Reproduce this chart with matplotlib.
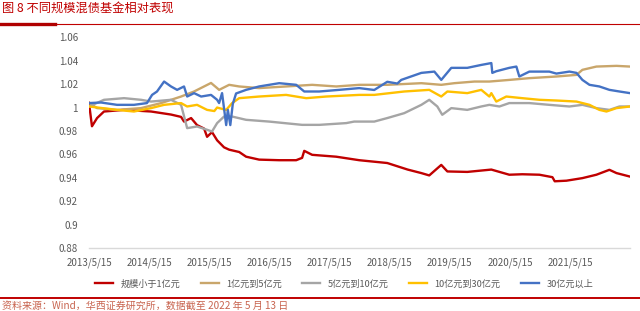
import matplotlib
matplotlib.use("Agg")
import matplotlib.pyplot as plt
from matplotlib.lines import Line2D
import pandas as pd

plt.rcParams["font.family"] = ["Noto Sans CJK SC", "DejaVu Sans"]

# 规模小于1亿元
red_dates = ["2013-05-15", "2013-06-02", "2013-07-03", "2013-08-14", "2013-12-14", "2014-05-27",
             "2014-09-25", "2014-11-25", "2014-12-13", "2015-01-25", "2015-03-02", "2015-04-14",
             "2015-05-02", "2015-06-01", "2015-07-02", "2015-08-13", "2015-09-13", "2015-11-13",
             "2015-12-25", "2016-03-13", "2016-07-13", "2016-10-24", "2016-11-29", "2016-12-12",
             "2017-01-29", "2017-06-24", "2017-11-11", "2018-04-30", "2018-09-01", "2018-11-23",
             "2019-01-10", "2019-03-24", "2019-04-30", "2019-08-29", "2020-01-22", "2020-05-10",
             "2020-07-28", "2020-11-09", "2021-01-27", "2021-02-10", "2021-04-22", "2021-07-28",
             "2021-10-21", "2022-01-08", "2022-02-20", "2022-05-13"]
red_vals = [1.004, 0.984, 0.991, 0.9966, 0.998, 0.9966,
            0.994, 0.992, 0.988, 0.991, 0.985, 0.982,
            0.975, 0.979, 0.972, 0.966, 0.964, 0.962,
            0.958, 0.9555, 0.955, 0.955, 0.957, 0.963,
            0.9596, 0.958, 0.955, 0.9526, 0.947, 0.944,
            0.942, 0.951, 0.9454, 0.945, 0.947, 0.9426,
            0.943, 0.9426, 0.9405, 0.937, 0.9375, 0.9397,
            0.9426, 0.9468, 0.944, 0.941]

# 1亿元到5亿元
tan_dates = ["2013-05-15", "2013-07-03", "2013-11-01", "2014-03-27", "2014-07-27", "2014-11-25",
             "2015-02-12", "2015-05-26", "2015-07-02", "2015-07-14", "2015-09-13", "2015-11-13",
             "2016-03-13", "2016-08-24", "2017-01-29", "2017-06-24", "2017-11-11", "2018-04-30",
             "2018-11-23", "2019-03-24", "2019-06-11", "2019-10-11", "2020-01-10", "2020-05-10",
             "2020-09-09", "2021-02-20", "2021-06-22", "2021-07-28", "2021-10-21", "2022-02-20",
             "2022-05-13"]
tan_vals = [1.004, 0.9995, 0.998, 0.9995, 1.0038, 1.0094,
            1.0137, 1.021, 1.0166, 1.0151, 1.0194, 1.018,
            1.0166, 1.018, 1.0194, 1.018, 1.0194, 1.0194,
            1.0208, 1.0194, 1.0208, 1.0222, 1.0222, 1.0236,
            1.0251, 1.0265, 1.0279, 1.0322, 1.035, 1.0356,
            1.035]

# 5亿元到10亿元
grey_dates = ["2013-05-15", "2013-08-14", "2013-12-14", "2014-03-27", "2014-05-27", "2014-09-25",
              "2014-11-25", "2015-01-01", "2015-03-02", "2015-05-02", "2015-06-01", "2015-07-02",
              "2015-08-13", "2015-10-01", "2015-12-25", "2016-05-13", "2016-11-29", "2017-03-13",
              "2017-08-24", "2017-10-11", "2018-02-10", "2018-04-30", "2018-08-11", "2018-11-23",
              "2019-01-10", "2019-02-28", "2019-03-30", "2019-05-24", "2019-08-29", "2019-11-22",
              "2020-01-10", "2020-03-11", "2020-05-10", "2020-09-09", "2021-01-08", "2021-05-10",
              "2021-07-28", "2021-10-21", "2022-01-08", "2022-03-10", "2022-05-13"]
grey_vals = [1.0009, 1.0066, 1.008, 1.0066, 1.0051, 1.0066,
             1.0023, 0.9824, 0.9838, 0.981, 0.9795, 0.9867,
             0.9923, 0.9923, 0.9895, 0.988, 0.9852, 0.9852,
             0.9867, 0.988, 0.988, 0.991, 0.9952, 1.0023,
             1.0066, 1.0009, 0.9938, 0.9995, 0.998, 1.0009,
             1.0023, 1.0009, 1.0038, 1.0038, 1.0023, 1.0009,
             1.0023, 0.9995, 0.998, 1.0009, 1.0009]

# 10亿元到30亿元
yellow_dates = ["2013-05-15", "2013-11-01", "2014-02-12", "2014-05-27", "2014-08-14", "2014-11-25",
                "2015-01-01", "2015-03-02", "2015-05-02", "2015-06-15", "2015-07-02", "2015-07-14",
                "2015-08-26", "2015-10-01", "2015-11-13", "2016-03-13", "2016-08-24", "2016-12-24",
                "2017-04-24", "2017-11-11", "2018-02-10", "2018-08-11", "2019-01-10", "2019-03-24",
                "2019-04-30", "2019-08-29", "2019-11-22", "2020-01-10", "2020-01-22", "2020-02-21",
                "2020-04-22", "2020-07-28", "2020-11-09", "2021-02-20", "2021-06-22", "2021-09-09",
                "2021-11-08", "2021-12-21", "2022-02-20", "2022-05-13"]
yellow_vals = [1.0009, 0.998, 0.9966, 0.9995, 1.0023, 1.0038,
               1.0009, 1.0023, 0.998, 0.997, 1.0, 0.9995,
               0.998, 1.0038, 1.008, 1.0094, 1.0108, 1.008,
               1.0094, 1.0108, 1.0108, 1.0137, 1.0151, 1.0094,
               1.0137, 1.0123, 1.0151, 1.0094, 1.0123, 1.0051,
               1.0094, 1.008, 1.0066, 1.006, 1.0051, 1.0023,
               0.998, 0.9966, 0.9995, 1.0009]

# 30亿元以上
blue_dates = ["2013-05-15", "2013-07-27", "2013-11-01", "2014-02-12", "2014-05-02", "2014-06-02",
              "2014-07-02", "2014-08-14", "2014-09-25", "2014-11-01", "2014-12-13", "2015-01-01",
              "2015-02-12", "2015-03-27", "2015-05-26", "2015-07-02", "2015-07-14", "2015-08-01",
              "2015-08-26", "2015-09-05", "2015-09-20", "2015-10-05", "2015-10-25", "2015-12-25",
              "2016-03-13", "2016-07-13", "2016-10-24", "2016-12-12", "2017-03-13", "2017-07-12",
              "2017-11-11", "2018-02-10", "2018-04-30", "2018-06-30", "2018-07-24", "2018-11-23",
              "2019-02-10", "2019-03-24", "2019-05-24", "2019-08-29", "2019-11-22", "2020-01-22",
              "2020-01-28", "2020-02-21", "2020-05-10", "2020-06-22", "2020-07-10", "2020-09-09",
              "2021-01-08", "2021-02-20", "2021-05-10", "2021-06-22", "2021-07-28", "2021-09-09",
              "2021-11-08", "2022-01-08", "2022-03-10", "2022-05-13"]
blue_vals = [1.0038, 1.0043, 1.0023, 1.0023, 1.0038, 1.0108,
             1.0137, 1.0222, 1.018, 1.0151, 1.018, 1.0094,
             1.0123, 1.0094, 1.0108, 1.0066, 1.0038, 1.0123,
             0.985, 0.998, 0.985, 1.003, 1.012, 1.0151,
             1.018, 1.0208, 1.0194, 1.0137, 1.0137, 1.0151,
             1.0166, 1.015, 1.022, 1.0205, 1.0236, 1.0296,
             1.0307, 1.0236, 1.0339, 1.0339, 1.0364, 1.038,
             1.0296, 1.031, 1.0339, 1.035, 1.0265, 1.0307,
             1.0307, 1.029, 1.0307, 1.0296, 1.0236, 1.0194,
             1.018, 1.0151, 1.0137, 1.0123]

series_names = ["规模小于1亿元", "1亿元到5亿元", "5亿元到10亿元", "10亿元到30亿元", "30亿元以上"]
series_colors = ["#C00000", "#C9A66B", "#A5A5A5", "#FFC000", "#4472C4"]
series_dates = [red_dates, tan_dates, grey_dates, yellow_dates, blue_dates]
series_vals = [red_vals, tan_vals, grey_vals, yellow_vals, blue_vals]

tick_dates = pd.to_datetime(["2013-05-15", "2014-05-15", "2015-05-15", "2016-05-15", "2017-05-15",
                             "2018-05-15", "2019-05-15", "2020-05-15", "2021-05-15"])
y_ticks = [0.88, 0.90, 0.92, 0.94, 0.96, 0.98, 1.00, 1.02, 1.04, 1.06]

title = "图 8 不同规模混债基金相对表现"
source = "资料来源：Wind，华西证券研究所，数据截至 2022 年 5 月 13 日"

W, H = 640, 311
fig = plt.figure(figsize=(W / 100, H / 100), dpi=100)
ax = fig.add_axes([89 / W, (H - 248) / H, (630 - 89) / W, (248 - 37.3) / H])

for name, color, d, v in zip(series_names, series_colors, series_dates, series_vals):
    ax.plot(pd.to_datetime(d), v, color=color, lw=1.7, label=name, solid_joinstyle="round")

ax.set_xlim(pd.Timestamp("2013-05-15"), pd.Timestamp("2022-05-13"))
ax.set_ylim(0.88, 1.06)
ax.set_yticks(y_ticks)
ax.set_yticklabels([f"{v:g}" for v in y_ticks])
ax.set_xticks(tick_dates)
ax.set_xticklabels([f"{d.year}/{d.month}/{d.day}" for d in tick_dates])
ax.tick_params(axis="both", length=0, labelsize=7, labelcolor="#595959")
ax.tick_params(axis="y", pad=8)
ax.tick_params(axis="x", pad=7)
for side in ["left", "right", "top"]:
    ax.spines[side].set_visible(False)
ax.spines["bottom"].set_color("#D9D9D9")
ax.spines["bottom"].set_linewidth(1.0)
ax.patch.set_alpha(0)

handles, labels = ax.get_legend_handles_labels()
fig.legend(handles, labels, loc="center", bbox_to_anchor=(344 / W, (H - 284) / H), ncol=5,
           frameon=False, fontsize=6.6, labelcolor="#595959", handlelength=2.0,
           handletextpad=0.8, columnspacing=2.2)

# header / footer decoration
fig.text(2 / W, 1 - 8.5 / H, title, fontsize=8.8, color="#C00000", va="center", ha="left")
fig.add_artist(Line2D([0, 1], [1 - 23.5 / H] * 2, color="#C00000", lw=0.8, transform=fig.transFigure))
fig.add_artist(Line2D([0, 55 / W], [1 - 23.5 / H] * 2, color="#B00000", lw=2.4, transform=fig.transFigure))
fig.add_artist(Line2D([0, 1], [1 - 298 / H] * 2, color="#C00000", lw=1.4, transform=fig.transFigure))
fig.text(2 / W, 1 - 305.5 / H, source, fontsize=7.2, color="#C8644F", va="center", ha="left")

fig.savefig("out.png", dpi=100)
